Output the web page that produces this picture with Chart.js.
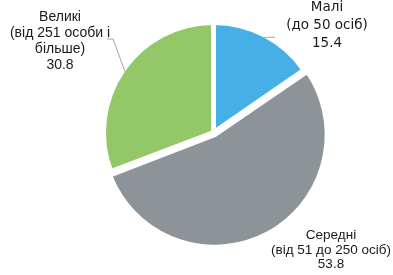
<html lang="uk">
<head>
    <meta charset="UTF-8">
    <title>Розподіл за розміром</title>
    <script src="https://cdn.jsdelivr.net/npm/chart.js"></script>
    <style>
      body {
          margin: 0;
          background: #fff;
      }
      canvas {
          display: block;
      }
    </style>
</head>
<body>
    <canvas id="pieChart" width="393" height="275"></canvas>
    <script>
        // data
        const categories = ['Малі', 'Середні', 'Великі'];
        const categoryNotes = [
            ['(до 50 осіб)'],
            ['(від 51 до 250 осіб)'],
            ['(від 251 особи і', 'більше)']
        ];
        const values = [15.4, 53.8, 30.8];

        // look
        const sliceColors = ['#46b0e6', '#8c9399', '#93c768'];
        const sliceOffsets = [0, 10, 0];

        // label boxes: centre x, first baseline, line step, font
        const labelLayout = [
            { x: 327, y: 11, step: 18, font: '13.5px "DejaVu Sans"', leader: [275, null] },
            { x: 331, y: 239, step: 14.5, font: '13.5px "Liberation Sans"', leader: null },
            { x: 60, y: 21, step: 16, font: '14px "Liberation Sans"', leader: [113, 39, 107] }
        ];

        const labelPlugin = {
            id: 'pieLabels',
            afterDraw(chart) {
                const ctx = chart.ctx;
                const arcs = chart.getDatasetMeta(0).data;
                ctx.save();

                // leader lines
                ctx.strokeStyle = '#a6a6a6';
                ctx.lineWidth = 1;
                arcs.forEach((arc, i) => {
                    const lay = labelLayout[i];
                    if (!lay.leader) return;
                    const p = arc.getProps(['x', 'y', 'startAngle', 'endAngle', 'outerRadius']);
                    const mid = (p.startAngle + p.endAngle) / 2;
                    const r = p.outerRadius - 2.5;
                    const ex = p.x + Math.cos(mid) * r;
                    const ey = p.y + Math.sin(mid) * r;
                    ctx.beginPath();
                    ctx.moveTo(ex, ey);
                    if (lay.leader[1] === null) {
                        ctx.lineTo(lay.leader[0], ey);
                    } else {
                        ctx.lineTo(lay.leader[0], lay.leader[1]);
                        ctx.lineTo(lay.leader[2], lay.leader[1]);
                    }
                    ctx.stroke();
                });

                // texts
                ctx.fillStyle = '#1a1a1a';
                ctx.textAlign = 'center';
                ctx.textBaseline = 'alphabetic';
                categories.forEach((name, i) => {
                    const lay = labelLayout[i];
                    const lines = [name, ...categoryNotes[i], values[i].toFixed(1)];
                    ctx.font = lay.font;
                    lines.forEach((line, k) => {
                        ctx.fillText(line, lay.x, lay.y + k * lay.step);
                    });
                });
                ctx.restore();
            }
        };

        const ctx = document.getElementById('pieChart').getContext('2d');
        const chart = new Chart(ctx, {
            type: 'pie',
            data: {
                labels: categories,
                datasets: [{
                    data: values,
                    backgroundColor: sliceColors,
                    borderColor: '#ffffff',
                    borderWidth: 5,
                    offset: sliceOffsets
                }]
            },
            options: {
                responsive: false,
                animation: false,
                radius: 110,
                layout: {
                    padding: { left: 34, right: 0, top: 0, bottom: 10 }
                },
                plugins: {
                    legend: { display: false },
                    tooltip: { enabled: false }
                }
            },
            plugins: [labelPlugin]
        });
    </script>
</body>
</html>
